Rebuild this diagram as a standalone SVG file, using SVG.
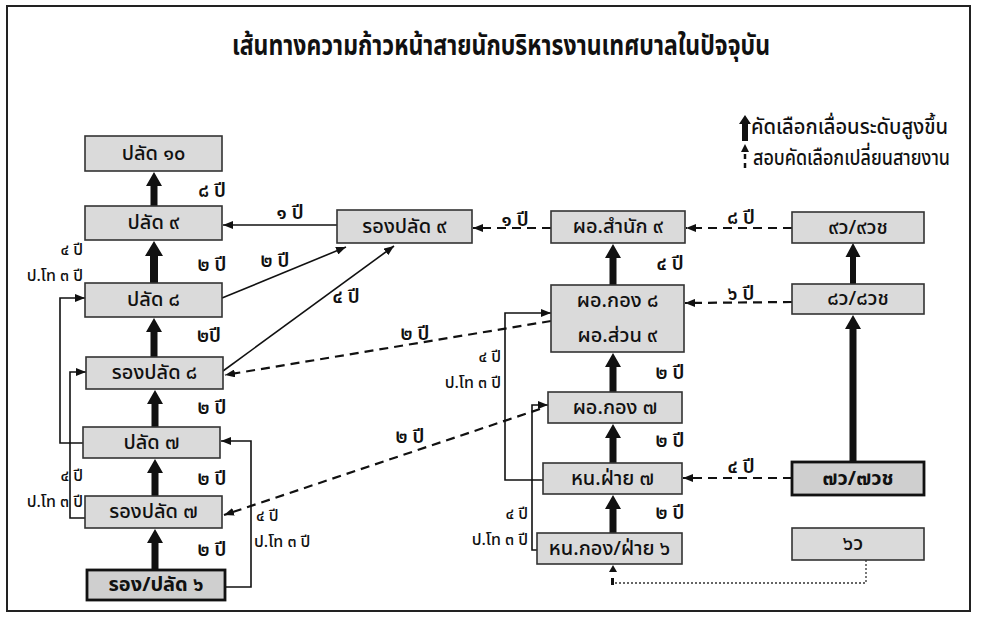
<svg xmlns="http://www.w3.org/2000/svg" width="983" height="622" viewBox="0 0 983 622">
<style>
text{font-family:"Noto Sans Thai","Noto Sans","DejaVu Sans",sans-serif;fill:#111}
.title{font-size:28px;font-weight:bold}
.nt{font-size:20px;text-anchor:middle;dominant-baseline:central;font-weight:500}
.ntb{font-size:20px;text-anchor:middle;dominant-baseline:central;font-weight:bold}
.lb{font-size:19px;text-anchor:middle;dominant-baseline:central;font-weight:600}
.lr{font-size:16px;text-anchor:end;dominant-baseline:central;font-weight:500}
.lg{font-size:21px;dominant-baseline:central;font-weight:500}
.box{fill:#dadada;stroke:#333;stroke-width:1.6}
.boxb{fill:#cfcfcf;stroke:#111;stroke-width:2.8}
.thin{fill:none;stroke:#111;stroke-width:1.6}
.dash{fill:none;stroke:#111;stroke-width:2.2;stroke-dasharray:9 6}
.dot{fill:none;stroke:#333;stroke-width:1.3;stroke-dasharray:2 2}
.big{fill:#111}
</style>
<defs>
<marker id="ah" viewBox="0 0 10 8" refX="10" refY="4" markerWidth="10" markerHeight="8" markerUnits="userSpaceOnUse" orient="auto"><path d="M0,0 L10,4 L0,8 z" fill="#111"/></marker>
</defs>
<rect x="7" y="6" width="963" height="605" fill="#fff" stroke="#222" stroke-width="2"/>
<text class="title" x="232" y="55" textLength="538" lengthAdjust="spacingAndGlyphs">เส้นทางความก้าวหน้าสายนักบริหารงานเทศบาลในปัจจุบัน</text>

<g id="legend">
<path class="big" d="M742,141 L742,124 L739,124 L745,115 L751,124 L748,124 L748,141 Z"/>
<path class="big" d="M741,152 L745,144 L749,152 Z"/>
<line x1="745" y1="154" x2="745" y2="171" stroke="#111" stroke-width="2.5" stroke-dasharray="5 4"/>
<text class="lg" x="751" y="127" textLength="197" lengthAdjust="spacingAndGlyphs">คัดเลือกเลื่อนระดับสูงขึ้น</text>
<text class="lg" x="753" y="158" textLength="197" lengthAdjust="spacingAndGlyphs">สอบคัดเลือกเปลี่ยนสายงาน</text>
</g>

<g id="connectors">
<path class="big" d="M150.5,206 L150.5,186 L146,186 L154,172 L162,186 L157.5,186 L157.5,206 Z"/>
<path class="big" d="M150,283 L150,256 L145,256 L154,241 L163,256 L158,256 L158,283 Z"/>
<path class="big" d="M150.5,357 L150.5,332 L146,332 L154,318 L162,332 L157.5,332 L157.5,357 Z"/>
<path class="big" d="M151.5,427 L151.5,404 L147,404 L155,390 L163,404 L158.5,404 L158.5,427 Z" fill="#333"/>
<path class="big" d="M151.5,496 L151.5,473 L147,473 L155,459 L163,473 L158.5,473 L158.5,496 Z" fill="#333"/>
<path class="big" d="M151.5,570 L151.5,543 L147,543 L155,529 L163,543 L158.5,543 L158.5,570 Z"/>
<path class="big" d="M609.5,285 L609.5,258 L605,258 L613,244 L621,258 L616.5,258 L616.5,285 Z"/>
<path class="big" d="M609.5,392 L609.5,367 L605,367 L613,353 L621,367 L616.5,367 L616.5,392 Z"/>
<path class="big" d="M609.5,463 L609.5,438 L605,438 L613,424 L621,438 L616.5,438 L616.5,463 Z" fill="#333"/>
<path class="big" d="M609.5,533 L609.5,509 L605,509 L613,495 L621,509 L616.5,509 L616.5,533 Z"/>
<path class="big" d="M850,284 L850,257 L845.5,257 L853,243 L860.5,257 L856,257 L856,284 Z"/>
<path class="big" d="M849.5,462 L849.5,329 L845,329 L853,315 L861,329 L856.5,329 L856.5,462 Z"/>

<polyline class="thin" points="83,443 60,443 60,298 85,298" marker-end="url(#ah)"/>
<polyline class="thin" points="85,518 70,518 70,372 86,372" marker-end="url(#ah)"/>
<polyline class="thin" points="225,587 251,587 251,441 221,441" marker-end="url(#ah)"/>
<line class="thin" x1="337" y1="225" x2="223" y2="225" marker-end="url(#ah)"/>
<line class="thin" x1="222" y1="298" x2="346" y2="247" marker-end="url(#ah)"/>
<line class="thin" x1="223" y1="371" x2="394" y2="246" marker-end="url(#ah)"/>
<line class="dash" x1="551" y1="321" x2="225" y2="375" marker-end="url(#ah)"/>
<line class="dash" x1="540" y1="409" x2="224" y2="515" marker-end="url(#ah)"/>
<line class="dash" x1="551" y1="228" x2="473" y2="228" marker-end="url(#ah)"/>
<line class="dash" x1="792" y1="228" x2="686" y2="228" marker-end="url(#ah)"/>
<line class="dash" x1="792" y1="302" x2="685" y2="303" marker-end="url(#ah)"/>
<line class="dash" x1="792" y1="478" x2="683" y2="478" marker-end="url(#ah)"/>
<polyline class="thin" points="543,480 505,480 505,313 551,313" marker-end="url(#ah)"/>
<polyline class="thin" points="537,550 532,550 532,405 548,405" marker-end="url(#ah)"/>
<polyline class="dot" points="866,560 866,583 614,583"/>
<rect x="611" y="578" width="3" height="7" fill="#111"/>
<path class="big" d="M609,572 L613,565 L617,572 Z"/>
</g>

<g id="labels">
<text class="lb" x="212" y="191">๘ ปี</text>
<text class="lb" x="212" y="265">๒ ปี</text>
<text class="lb" x="209" y="336">๒ปี</text>
<text class="lb" x="212" y="408">๒ ปี</text>
<text class="lb" x="212" y="479">๒ ปี</text>
<text class="lb" x="212" y="550">๒ ปี</text>
<text class="lb" x="290" y="213">๑ ปี</text>
<text class="lb" x="275" y="261">๒ ปี</text>
<text class="lb" x="346" y="297">๔ ปี</text>
<text class="lb" x="415" y="334">๒ ปี</text>
<text class="lb" x="410" y="437">๒ ปี</text>
<text class="lr" x="83" y="250">๔ ปี</text>
<text class="lr" x="83" y="276">ป.โท ๓ ปี</text>
<text class="lr" x="83" y="476">๔ ปี</text>
<text class="lr" x="83" y="502">ป.โท ๓ ปี</text>
<text class="lr" x="256" y="516" style="text-anchor:start">๔ ปี</text>
<text class="lr" x="254" y="542" style="text-anchor:start">ป.โท ๓ ปี</text>
<text class="lb" x="515" y="220">๑ ปี</text>
<text class="lb" x="741" y="218">๘ ปี</text>
<text class="lb" x="741" y="294">๖ ปี</text>
<text class="lb" x="741" y="467">๔ ปี</text>
<text class="lb" x="670" y="264">๔ ปี</text>
<text class="lb" x="670" y="373">๒ ปี</text>
<text class="lb" x="670" y="441">๒ ปี</text>
<text class="lb" x="670" y="513">๒ ปี</text>
<text class="lr" x="501" y="357">๔ ปี</text>
<text class="lr" x="501" y="383">ป.โท ๓ ปี</text>
<text class="lr" x="528" y="514">๔ ปี</text>
<text class="lr" x="528" y="540">ป.โท ๓ ปี</text>
</g>

<g id="n-palad10"><rect class="box" x="85" y="136" width="137" height="35"/><text class="nt" x="153.5" y="153.5">ปลัด ๑๐</text></g>
<g id="n-palad9"><rect class="box" x="85" y="206" width="137" height="34"/><text class="nt" x="153.5" y="223">ปลัด ๙</text></g>
<g id="n-palad8"><rect class="box" x="85" y="283" width="137" height="34"/><text class="nt" x="153.5" y="300">ปลัด ๘</text></g>
<g id="n-rong8"><rect class="box" x="86" y="357" width="137" height="32"/><text class="nt" x="154.5" y="373">รองปลัด ๘</text></g>
<g id="n-palad7"><rect class="box" x="83" y="427" width="137" height="31"/><text class="nt" x="151.5" y="442.5">ปลัด ๗</text></g>
<g id="n-rong7"><rect class="box" x="85" y="496" width="137" height="32"/><text class="nt" x="153.5" y="512">รองปลัด ๗</text></g>
<g id="n-rong6"><rect class="boxb" x="87" y="570" width="138" height="30"/><text class="ntb" x="156" y="585">รอง/ปลัด ๖</text></g>
<g id="n-rong9"><rect class="box" x="337" y="210" width="135" height="33"/><text class="nt" x="404.5" y="226.5">รองปลัด ๙</text></g>
<g id="n-samnak9"><rect class="box" x="551" y="211" width="134" height="32"/><text class="nt" x="618" y="227">ผอ.สำนัก ๙</text></g>
<g id="n-kong8"><rect class="box" x="551" y="285" width="133" height="67"/><text class="nt" x="617.5" y="301">ผอ.กอง ๘</text><text class="nt" x="617.5" y="336">ผอ.ส่วน ๙</text></g>
<g id="n-kong7"><rect class="box" x="548" y="392" width="134" height="31"/><text class="nt" x="615" y="407.5">ผอ.กอง ๗</text></g>
<g id="n-fai7"><rect class="box" x="543" y="463" width="139" height="31"/><text class="nt" x="612.5" y="478.5">หน.ฝ่าย ๗</text></g>
<g id="n-fai6"><rect class="box" x="537" y="533" width="145" height="31"/><text class="nt" x="609.5" y="548.5">หน.กอง/ฝ่าย ๖</text></g>
<g id="n-9w"><rect class="box" x="792" y="212" width="132" height="31"/><text class="nt" x="858" y="227.5">๙ว/๙วช</text></g>
<g id="n-8w"><rect class="box" x="792" y="284" width="132" height="30"/><text class="nt" x="858" y="299">๘ว/๘วช</text></g>
<g id="n-7w"><rect class="boxb" x="792" y="462" width="132" height="33"/><text class="ntb" x="858" y="478.5">๗ว/๗วช</text></g>
<g id="n-6w"><rect class="box" x="792" y="528" width="132" height="32"/><text class="nt" x="853" y="544">๖ว</text></g>
</svg>
